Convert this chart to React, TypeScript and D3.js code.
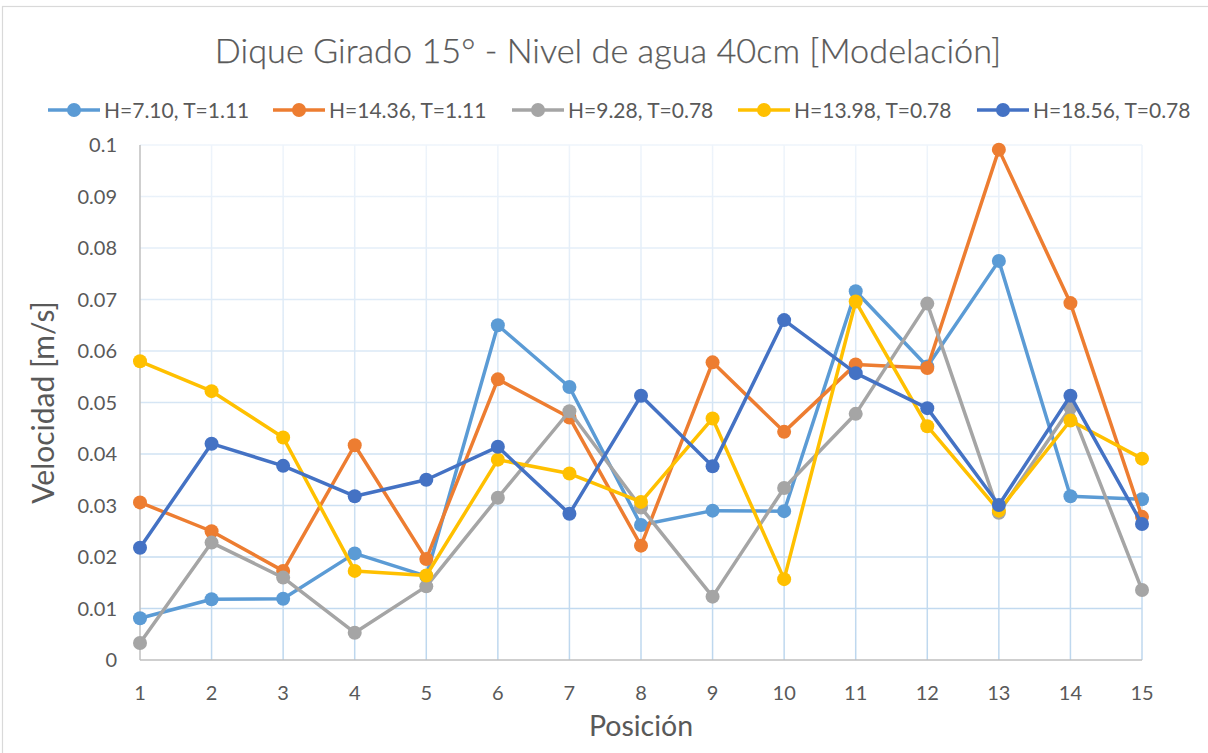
import React from "react";
import * as d3 from "d3";

const positions = [1, 2, 3, 4, 5, 6, 7, 8, 9, 10, 11, 12, 13, 14, 15];
const yTicks = [0, 0.01, 0.02, 0.03, 0.04, 0.05, 0.06, 0.07, 0.08, 0.09, 0.1];
const yTickLabels = ["0", "0.01", "0.02", "0.03", "0.04", "0.05", "0.06", "0.07", "0.08", "0.09", "0.1"];

const seriesNames = [
  "H=7.10, T=1.11",
  "H=14.36, T=1.11",
  "H=9.28, T=0.78",
  "H=13.98, T=0.78",
  "H=18.56, T=0.78",
];
const seriesColors = ["#5B9BD5", "#ED7D31", "#A5A5A5", "#FFC000", "#4472C4"];

const s1 = [0.0081, 0.0118, 0.0119, 0.0207, 0.0163, 0.065, 0.053, 0.0262, 0.029, 0.0289, 0.0716, 0.057, 0.0775, 0.0318, 0.0312];
const s2 = [0.0306, 0.025, 0.0173, 0.0417, 0.0196, 0.0545, 0.0471, 0.0222, 0.0578, 0.0443, 0.0574, 0.0567, 0.0991, 0.0693, 0.0278];
const s3 = [0.0033, 0.0228, 0.016, 0.0053, 0.0143, 0.0315, 0.0483, 0.0296, 0.0123, 0.0334, 0.0478, 0.0692, 0.0286, 0.049, 0.0136];
const s4 = [0.058, 0.0522, 0.0432, 0.0173, 0.0164, 0.0389, 0.0362, 0.0307, 0.0469, 0.0157, 0.0696, 0.0454, 0.029, 0.0465, 0.0391];
const s5 = [0.0218, 0.042, 0.0377, 0.0318, 0.035, 0.0414, 0.0284, 0.0513, 0.0376, 0.066, 0.0557, 0.0489, 0.0301, 0.0513, 0.0264];
const seriesValues = [s1, s2, s3, s4, s5];

const titleText = "Dique Girado 15° - Nivel de agua 40cm [Modelación]";
const xTitle = "Posición";
const yTitle = "Velocidad [m/s]";

const W = 1208;
const H = 753;
const left = 140;
const right = 1142;
const top = 145;
const bottom = 660;
const FONT = "Lato, 'Open Sans', sans-serif";
const TEXT = "#595959";
const legendX = [48, 273, 512, 738, 977];

export default function App() {
  const x = d3.scaleLinear().domain([1, 15]).range([left, right]);
  const y = d3.scaleLinear().domain([0, 0.1]).range([bottom, top]);
  const line = d3
    .line<number>()
    .x((_, i) => x(positions[i]))
    .y((d) => y(d));

  return (
    <svg
      width={W}
      height={H}
      style={{ position: "absolute", left: 0, top: 0, display: "block", background: "#fff" }}
      fontFamily={FONT}
    >
      <defs>
        <linearGradient id="gridGrad" gradientUnits="userSpaceOnUse" x1="0" y1={top} x2="0" y2={bottom}>
          <stop offset="0" stopColor="#EEF4FB" />
          <stop offset="1" stopColor="#BDD7EE" />
        </linearGradient>
      </defs>
      <rect x={0} y={0} width={W} height={H} fill="#fff" />
      <rect x={2.5} y={6.5} width={1230} height={800} fill="none" stroke="#D9D9D9" strokeWidth={1.2} />

      <text x={608} y={63} textAnchor="middle" fontSize={34.3} fontWeight={300} fill={TEXT} stroke={TEXT} strokeWidth={0.25}>
        {titleText}
      </text>

      {/* legend */}
      {seriesNames.map((n, i) => (
        <g key={n} transform={`translate(${legendX[i]},110)`}>
          <line x1={0} x2={52} y1={0} y2={0} stroke={seriesColors[i]} strokeWidth={3.5} />
          <circle cx={26} cy={0} r={7} fill={seriesColors[i]} />
          <text x={56} y={0} dy="0.36em" fontSize={21} fill={TEXT}>
            {n}
          </text>
        </g>
      ))}

      {/* grid */}
      <g stroke="url(#gridGrad)" strokeWidth={1.5}>
        {yTicks.slice(1).map((t) => (
          <line key={"h" + t} x1={left} x2={right} y1={y(t)} y2={y(t)} />
        ))}
        {positions.slice(1).map((p) => (
          <line key={"v" + p} x1={x(p)} x2={x(p)} y1={top} y2={bottom} />
        ))}
      </g>

      {/* axes */}
      <line x1={left} x2={left} y1={top} y2={bottom} stroke="#BFBFBF" strokeWidth={1.5} />
      <line x1={left} x2={right} y1={bottom} y2={bottom} stroke="#BFBFBF" strokeWidth={1.5} />

      {yTicks.map((t, i) => (
        <text key={"yl" + t} x={117} y={y(t)} dy="0.36em" textAnchor="end" fontSize={20} fill={TEXT}>
          {yTickLabels[i]}
        </text>
      ))}
      {positions.map((p) => (
        <text key={"xl" + p} x={x(p)} y={693} dy="0.36em" textAnchor="middle" fontSize={20} fill={TEXT}>
          {p}
        </text>
      ))}

      <text x={641} y={736} textAnchor="middle" fontSize={28.5} fill={TEXT}>
        {xTitle}
      </text>
      <text
        transform={`translate(54,${(top + bottom) / 2}) rotate(-90)`}
        textAnchor="middle"
        fontSize={30}
        fill={TEXT}
      >
        {yTitle}
      </text>

      {/* series */}
      {seriesValues.map((vals, si) => (
        <g key={"s" + si}>
          <path d={line(vals) || ""} fill="none" stroke={seriesColors[si]} strokeWidth={3.5} strokeLinejoin="round" />
          {vals.map((v, i) => (
            <circle key={i} cx={x(positions[i])} cy={y(v)} r={7} fill={seriesColors[si]} />
          ))}
        </g>
      ))}
    </svg>
  );
}
